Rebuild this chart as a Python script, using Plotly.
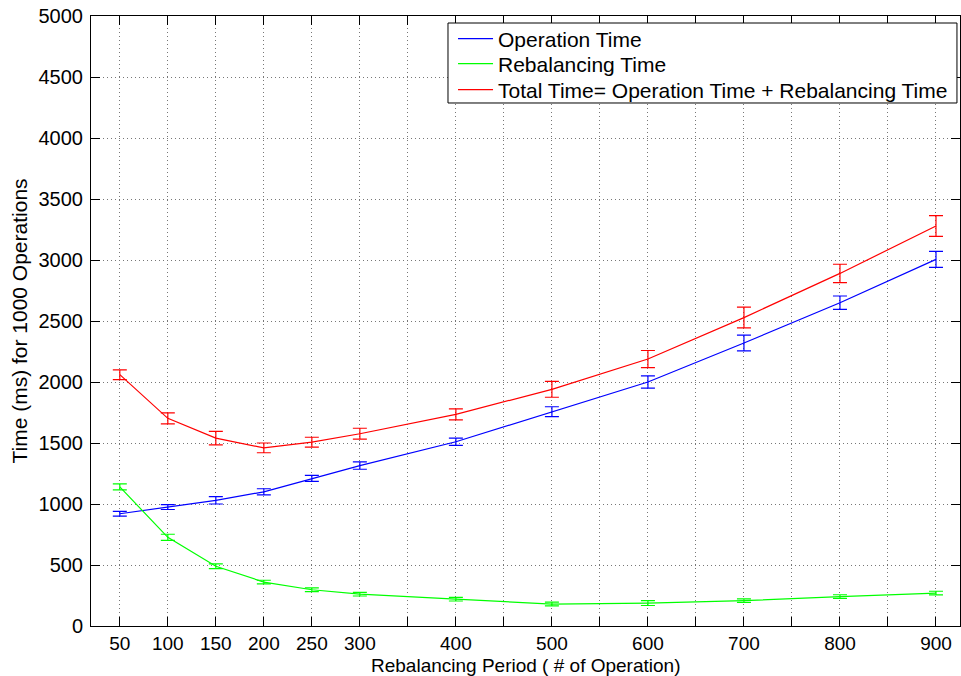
import plotly.graph_objects as go

periods = [50, 100, 150, 200, 250, 300, 400, 500, 600, 700, 800, 900]
op_time = [920, 975, 1030, 1100, 1210, 1315, 1510, 1757, 2000, 2320, 2650, 3005]
op_err = [20, 20, 30, 25, 25, 30, 30, 40, 50, 65, 55, 65]
reb_time = [1140, 727, 490, 360, 297, 261, 220, 180, 188, 208, 241, 270]
reb_err = [25, 25, 20, 15, 15, 15, 15, 15, 20, 15, 15, 15]
tot_time = [2060, 1702, 1540, 1460, 1507, 1576, 1735, 1940, 2188, 2528, 2890, 3278]
tot_err = [40, 45, 55, 40, 40, 45, 45, 65, 70, 85, 75, 85]

x_ticks = list(range(50, 901, 50))
x_ticktext = [str(v) if v in periods else "" for v in x_ticks]
y_ticks = list(range(0, 5001, 500))

names = ["Operation Time", "Rebalancing Time",
         "Total Time= Operation Time + Rebalancing Time"]
colors = ["#0000FF", "#00FF00", "#FF0000"]
x_title = "Rebalancing Period ( # of Operation)"
y_title = "Time (ms) for 1000 Operations"

FONT = "Liberation Sans, Arial, sans-serif"

legend_ids = ["legend", "legend2", "legend3"]
legend_rows = [0.9623, 0.9213, 0.8787]

fig = go.Figure()
for name, y, e, c, lg in zip(names, [op_time, reb_time, tot_time],
                             [op_err, reb_err, tot_err], colors, legend_ids):
    fig.add_trace(go.Scatter(
        x=periods, y=y, name=name, mode="lines", legend=lg,
        line=dict(color=c, width=1.2),
        error_y=dict(type="data", array=e, visible=True, color=c,
                     thickness=1.2, width=7),
    ))

axis_common = dict(
    showline=True, linecolor="black", linewidth=1, mirror="ticks",
    ticks="inside", ticklen=9, tickcolor="black", tickwidth=1,
    showgrid=True, gridcolor="#777777", gridwidth=1, griddash="1px,3px",
    zeroline=False,
)

fig.update_xaxes(
    range=[20, 925], tickmode="array", tickvals=x_ticks, ticktext=x_ticktext,
    tickfont=dict(family=FONT, size=19, color="black"),
    automargin=False, **axis_common,
)
fig.update_yaxes(
    range=[0, 5000], tickmode="array", tickvals=y_ticks,
    ticklabelstandoff=3,
    tickfont=dict(family=FONT, size=20, color="black"),
    title=dict(text=y_title,
               font=dict(family=FONT, size=21, color="black"), standoff=5),
    automargin=False, **axis_common,
)

legend_style = dict(
    x=0.4166, xanchor="left", yanchor="middle",
    bgcolor="rgba(0,0,0,0)", borderwidth=0,
    font=dict(family=FONT, size=21, color="black"),
    itemwidth=35,
)
layout_legends = {}
for lg, yy in zip(legend_ids, legend_rows):
    layout_legends[lg] = dict(y=yy, **legend_style)

fig.update_layout(
    width=961, height=676,
    margin=dict(l=91, r=1, t=16, b=50, pad=0),
    paper_bgcolor="white", plot_bgcolor="white",
    font=dict(family=FONT, size=20, color="black"),
    showlegend=True,
    shapes=[dict(type="rect", xref="paper", yref="paper",
                 x0=0.4108, x1=0.9965, y0=0.8574, y1=0.9885,
                 fillcolor="white", line=dict(color="black", width=1),
                 layer="above")],
    annotations=[dict(text=x_title, xref="paper", yref="paper",
                      x=0.5, y=-0.0852, xanchor="center", yanchor="bottom",
                      showarrow=False,
                      font=dict(family=FONT, size=19, color="black"))],
    **layout_legends,
)

fig.write_html("out.html")
